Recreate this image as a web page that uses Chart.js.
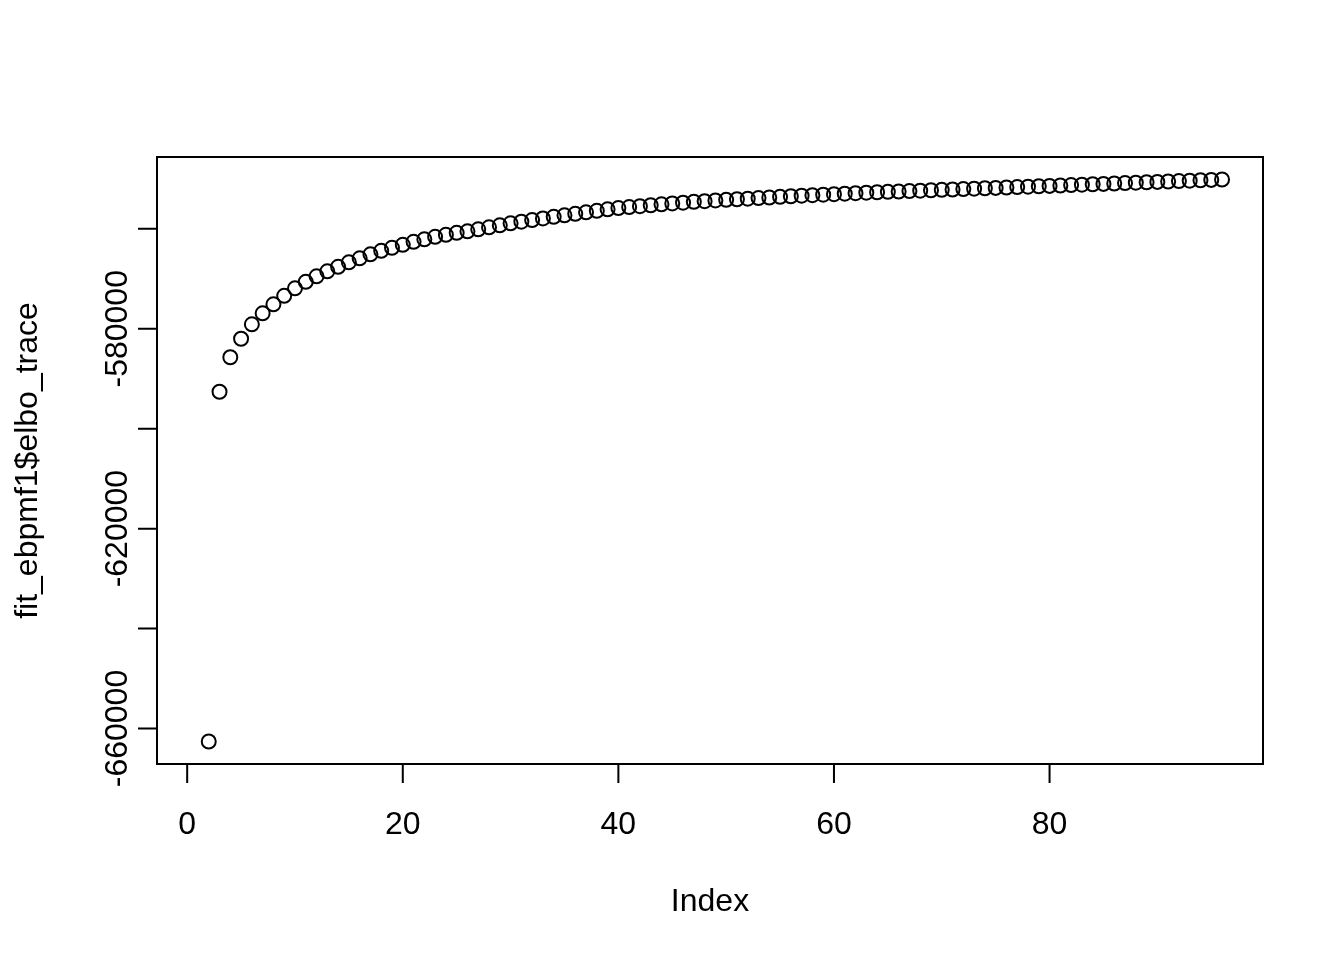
<!DOCTYPE html>
<html>
<head>
<meta charset="utf-8">
<script src="https://cdn.jsdelivr.net/npm/chart.js@4.4.1/dist/chart.umd.min.js"></script>
<style>
  body { margin: 0; background: #ffffff; }
  #grafico { display: block; }
</style>
</head>
<body>
<canvas id="grafico" width="1344" height="960"></canvas>
<script>
// Datos (el índice 1 no aparece)
const indices = [
  1, 2, 3, 4, 5, 6, 7, 8, 9, 10, 11, 12, 13, 14, 15, 16, 17, 18, 19, 20,
  21, 22, 23, 24, 25, 26, 27, 28, 29, 30, 31, 32, 33, 34, 35, 36, 37, 38, 39, 40,
  41, 42, 43, 44, 45, 46, 47, 48, 49, 50, 51, 52, 53, 54, 55, 56, 57, 58, 59, 60,
  61, 62, 63, 64, 65, 66, 67, 68, 69, 70, 71, 72, 73, 74, 75, 76, 77, 78, 79, 80,
  81, 82, 83, 84, 85, 86, 87, 88, 89, 90, 91, 92, 93, 94, 95, 96
];

const elboTrace = [
  null, -662600, -592600, -585700, -582000, -579100, -576900, -575100, -573400, -571900,
  -570600, -569500, -568500, -567600, -566700, -565900, -565100, -564400, -563800, -563200,
  -562600, -562100, -561600, -561200, -560800, -560500, -560100, -559700, -559300, -558900,
  -558560, -558240, -557920, -557600, -557300, -557000, -556700, -556400, -556100, -555840,
  -555640, -555460, -555280, -555100, -554920, -554760, -554600, -554460, -554320, -554200,
  -554080, -553960, -553840, -553720, -553600, -553480, -553360, -553260, -553160, -553060,
  -552960, -552860, -552760, -552680, -552600, -552520, -552440, -552360, -552280, -552200,
  -552120, -552040, -551960, -551880, -551800, -551720, -551640, -551560, -551480, -551400,
  -551320, -551240, -551160, -551080, -551000, -550920, -550840, -550760, -550680, -550600,
  -550520, -550440, -550360, -550280, -550200, -550120
];

const ticksX = [0, 20, 40, 60, 80];
const ticksY = [-660000, -640000, -620000, -600000, -580000, -560000];
const etiquetasY = ["-660000", "", "-620000", "", "-580000", ""];

const tituloX = "Index";
const tituloY = "fit_ebpmf1$elbo_trace";

// rango como en R: 4% extra a cada lado
function rangoR(valores) {
  const v = valores.filter(d => d !== null);
  const min = Math.min(...v);
  const max = Math.max(...v);
  const extra = (max - min) * 0.04;
  return { min: min - extra, max: max + extra };
}

const rangoX = rangoR(indices);
const rangoY = rangoR(elboTrace);

const puntos = [];
indices.forEach((ix, i) => {
  if (elboTrace[i] !== null) puntos.push({ x: ix, y: elboTrace[i] });
});

const fuente = "32px 'Liberation Sans', Arial, Helvetica, sans-serif";

// Ejes y caja al estilo de R base
const ejesR = {
  id: "ejesR",
  afterDraw(chart) {
    const ctx = chart.ctx;
    const area = chart.chartArea;
    const ejeX = chart.scales.x;
    const ejeY = chart.scales.y;
    const largoTick = 19;

    ctx.save();
    ctx.strokeStyle = "#000000";
    ctx.fillStyle = "#000000";
    ctx.lineWidth = 2;
    ctx.lineCap = "butt";

    ctx.strokeRect(area.left, area.top, area.right - area.left, area.bottom - area.top);

    // eje x
    ctx.beginPath();
    ctx.moveTo(ejeX.getPixelForValue(ticksX[0]), area.bottom);
    ctx.lineTo(ejeX.getPixelForValue(ticksX[ticksX.length - 1]), area.bottom);
    ticksX.forEach(v => {
      const px = ejeX.getPixelForValue(v);
      ctx.moveTo(px, area.bottom);
      ctx.lineTo(px, area.bottom + largoTick);
    });
    ctx.stroke();

    ctx.font = fuente;
    ctx.textAlign = "center";
    ctx.textBaseline = "alphabetic";
    ticksX.forEach(v => {
      ctx.fillText(String(v), ejeX.getPixelForValue(v), 834);
    });
    ctx.fillText(tituloX, (area.left + area.right) / 2, 911);

    // eje y
    ctx.beginPath();
    ctx.moveTo(area.left, ejeY.getPixelForValue(ticksY[0]));
    ctx.lineTo(area.left, ejeY.getPixelForValue(ticksY[ticksY.length - 1]));
    ticksY.forEach(v => {
      const py = ejeY.getPixelForValue(v);
      ctx.moveTo(area.left, py);
      ctx.lineTo(area.left - largoTick, py);
    });
    ctx.stroke();

    ticksY.forEach((v, i) => {
      if (!etiquetasY[i]) return;
      ctx.save();
      ctx.translate(127, ejeY.getPixelForValue(v));
      ctx.rotate(-Math.PI / 2);
      ctx.fillText(etiquetasY[i], 0, 0);
      ctx.restore();
    });

    ctx.save();
    ctx.translate(37, (area.top + area.bottom) / 2);
    ctx.rotate(-Math.PI / 2);
    ctx.fillText(tituloY, 0, 0);
    ctx.restore();

    ctx.restore();
  }
};

new Chart(document.getElementById("grafico"), {
  type: "scatter",
  data: {
    datasets: [{
      label: tituloY,
      data: puntos,
      showLine: false,
      pointStyle: "circle",
      pointRadius: 7,
      pointHoverRadius: 7,
      pointBorderWidth: 2,
      borderColor: "#000000",
      backgroundColor: "rgba(0,0,0,0)"
    }]
  },
  options: {
    responsive: false,
    animation: false,
    events: [],
    layout: {
      padding: { left: 157, top: 157, right: 81, bottom: 196 }
    },
    scales: {
      x: { type: "linear", display: false, min: rangoX.min, max: rangoX.max },
      y: { type: "linear", display: false, min: rangoY.min, max: rangoY.max }
    },
    plugins: {
      legend: { display: false },
      title: { display: false },
      tooltip: { enabled: false }
    }
  },
  plugins: [ejesR]
});
</script>
</body>
</html>
